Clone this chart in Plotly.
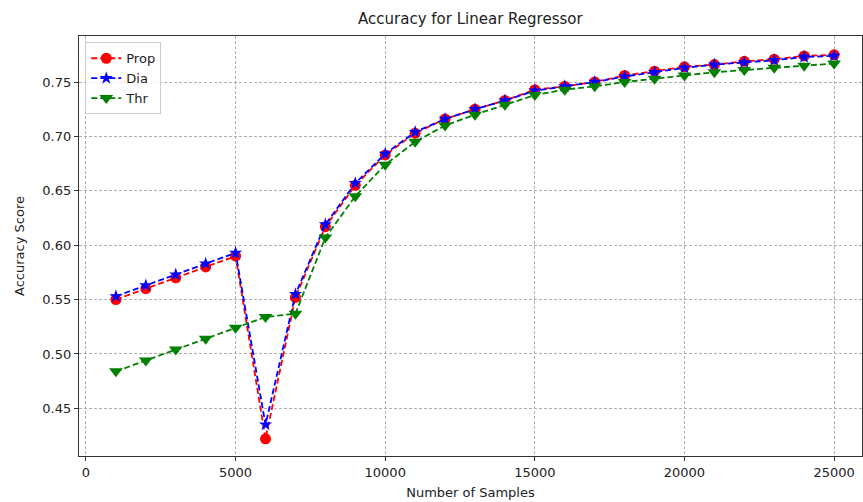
import plotly.graph_objects as go

samples = [1000, 2000, 3000, 4000, 5000, 6000, 7000, 8000, 9000, 10000, 11000, 12000, 13000,
           14000, 15000, 16000, 17000, 18000, 19000, 20000, 21000, 22000, 23000, 24000, 25000]
prop = [0.550, 0.560, 0.570, 0.580, 0.590, 0.422, 0.552, 0.617, 0.655, 0.683, 0.703, 0.716, 0.725,
        0.733, 0.743, 0.746, 0.750, 0.756, 0.760, 0.764, 0.766, 0.769, 0.771, 0.774, 0.775]
dia = [0.553, 0.563, 0.573, 0.583, 0.593, 0.435, 0.555, 0.619, 0.657, 0.684, 0.704, 0.716, 0.725,
       0.733, 0.742, 0.746, 0.750, 0.755, 0.759, 0.763, 0.766, 0.768, 0.770, 0.773, 0.774]
thr = [0.484, 0.494, 0.504, 0.514, 0.524, 0.534, 0.537, 0.607, 0.645, 0.674, 0.695, 0.710, 0.720,
       0.729, 0.738, 0.743, 0.746, 0.750, 0.753, 0.756, 0.759, 0.761, 0.763, 0.765, 0.767]

x_ticks = [0, 5000, 10000, 15000, 20000, 25000]
y_ticks = [0.45, 0.50, 0.55, 0.60, 0.65, 0.70, 0.75]

FONT = "DejaVu Sans"
LINE_DASH = "6px,3px"

fig = go.Figure()
fig.add_trace(go.Scatter(x=samples, y=prop, name="Prop", mode="lines+markers",
                         line=dict(color="red", dash=LINE_DASH, width=1.8),
                         marker=dict(symbol="circle", size=11, color="red")))
fig.add_trace(go.Scatter(x=samples, y=dia, name="Dia", mode="lines+markers",
                         line=dict(color="blue", dash=LINE_DASH, width=1.8),
                         marker=dict(symbol="star", size=10, color="blue")))
fig.add_trace(go.Scatter(x=samples, y=thr, name="Thr", mode="lines+markers",
                         line=dict(color="green", dash=LINE_DASH, width=1.8),
                         marker=dict(symbol="triangle-down", size=12, color="green")))

axis_common = dict(
    showline=True, linecolor="#333333", linewidth=1.3, mirror=True,
    ticks="outside", ticklen=4, tickcolor="#333333",
    showgrid=True, gridcolor="#b0b0b0", griddash="3px,2px", gridwidth=0.8,
    zeroline=False, tickfont=dict(family=FONT, size=13, color="#222222"),
)

fig.update_layout(
    width=863, height=502,
    margin=dict(l=79, r=1, t=36, b=46),
    paper_bgcolor="white", plot_bgcolor="white",
    title=dict(text="Accuracy for Linear Regressor", x=0.545, xanchor="center",
               y=0.962, yanchor="middle",
               font=dict(family=FONT, size=15, color="#222222")),
    xaxis=dict(axis_common, range=[-233, 25933], tickvals=x_ticks,
               ticktext=[str(v) for v in x_ticks],
               title=dict(text="Number of Samples", font=dict(family=FONT, size=13, color="#222222"),
                          standoff=9)),
    yaxis=dict(axis_common, range=[0.4062, 0.7923], tickvals=y_ticks,
               ticktext=[f"{v:.2f}" for v in y_ticks],
               title=dict(text="Accuracy Score", font=dict(family=FONT, size=13, color="#222222"),
                          standoff=14)),
    legend=dict(x=0.008, y=0.985, xanchor="left", yanchor="top",
                bgcolor="rgba(255,255,255,0.8)", bordercolor="#cccccc", borderwidth=1,
                font=dict(family=FONT, size=13, color="#222222"),
                tracegroupgap=0, itemwidth=30),
    showlegend=True,
)

fig.write_html("out.html")
